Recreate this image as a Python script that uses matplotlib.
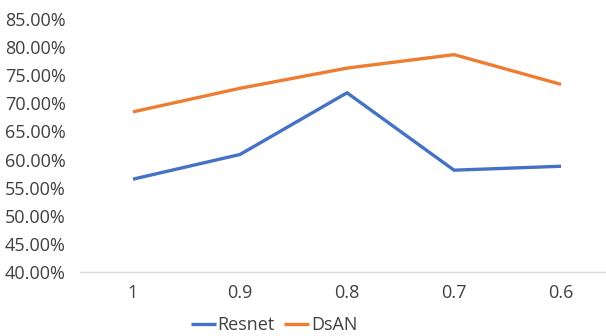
import matplotlib
matplotlib.use("Agg")
import matplotlib.pyplot as plt
from matplotlib.ticker import PercentFormatter

categories = ["1", "0.9", "0.8", "0.7", "0.6"]
resnet = [56.5, 60.9, 71.9, 58.1, 58.8]
dsan = [68.5, 72.7, 76.3, 78.7, 73.4]
y_ticks = [40, 45, 50, 55, 60, 65, 70, 75, 80, 85]

plt.rcParams["font.family"] = ["Open Sans", "DejaVu Sans"]
text_color = "#404040"

fig = plt.figure(figsize=(6.06, 3.36), dpi=100)
ax = fig.add_axes([79.5 / 606, 64.3 / 336, 1 - 79.5 / 606, 252.4 / 336])

x = range(len(categories))
ax.plot(x, resnet, color="#4472C4", lw=2.4, label="Resnet", solid_capstyle="butt")
ax.plot(x, dsan, color="#ED7D31", lw=2.4, label="DsAN", solid_capstyle="butt")

ax.set_xlim(-0.5, 4.42)
ax.set_ylim(40, 85)
ax.set_yticks(y_ticks)
ax.yaxis.set_major_formatter(PercentFormatter(decimals=2))
ax.set_xticks(list(x))
ax.set_xticklabels(categories)

for s in ["top", "right", "left"]:
    ax.spines[s].set_visible(False)
ax.spines["bottom"].set_color("#D9D9D9")
ax.spines["bottom"].set_linewidth(1.0)
ax.tick_params(axis="both", length=0, labelsize=13, colors=text_color)
ax.tick_params(axis="x", pad=9)
ax.tick_params(axis="y", pad=10)

fig.legend(loc="center", bbox_to_anchor=(274 / 606, 1 - 325 / 336), ncol=2,
           frameon=False, fontsize=13, handlelength=1.4, handletextpad=0.1,
           columnspacing=0.5, labelcolor=text_color)

fig.savefig("out.png", dpi=100)
